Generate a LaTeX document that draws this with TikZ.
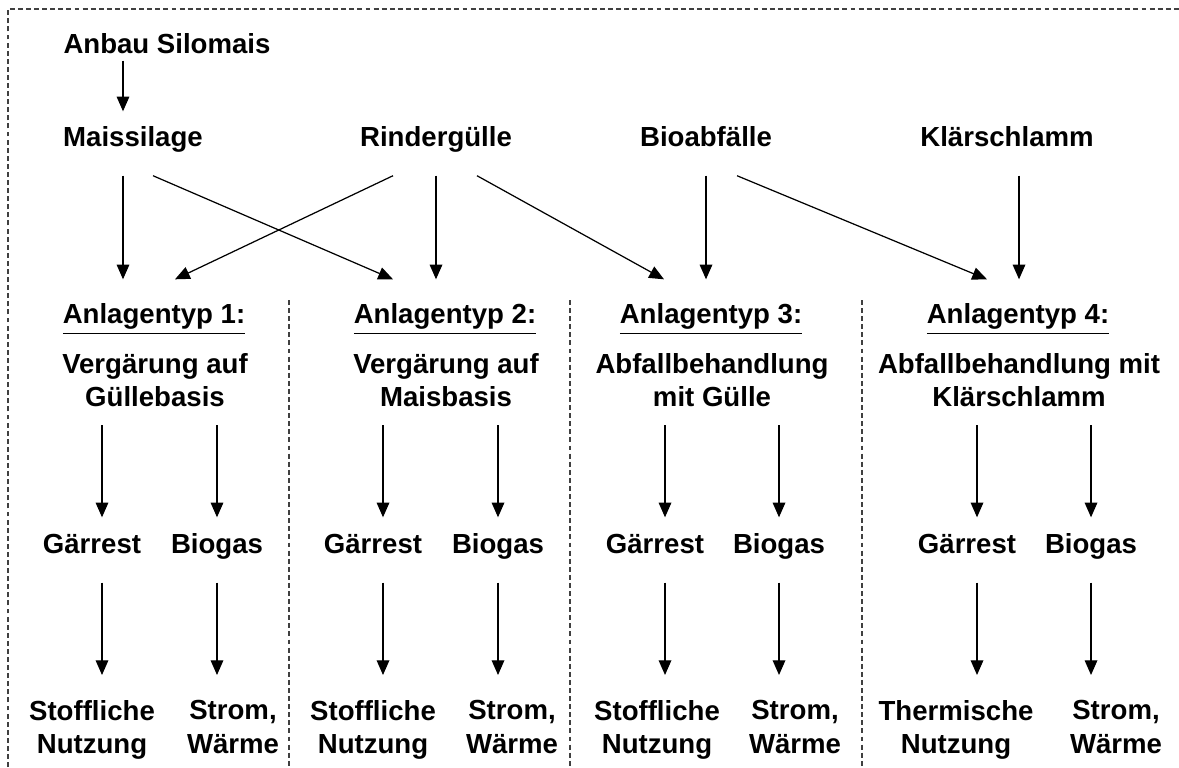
\documentclass[tikz,border=0pt]{standalone}
\usepackage{fontspec}
\setmainfont{Liberation Sans}
\usetikzlibrary{arrows.meta}

\begin{document}
\begin{tikzpicture}
        [font=\bfseries\fontsize{7.85}{9.6}\selectfont,
         top_style/.style={inner sep=0pt,anchor=base,text height=2mm,text depth=0.7mm},
         src_style/.style={inner sep=0pt,anchor=base,text height=3.4mm,text depth=2.9mm},
         typ_style/.style={inner sep=0pt,anchor=base,text height=4.3mm,text depth=1mm},
         desc_style/.style={inner sep=0pt,outer ysep=1.8mm,anchor=north,align=center,
                            execute at begin node={\vphantom{Sfl}}},
         prod_style/.style={inner sep=0pt,anchor=base,text height=3.5mm,text depth=2.9mm},
         use_style/.style={inner sep=0pt,outer ysep=2.5mm,anchor=north,align=center,
                           execute at begin node={\vphantom{Sfl}}},
         edge_style/.style={draw=black,line width=0.35pt,-{Triangle[length=4.2pt,width=3.6pt]}},
         sep_style/.style={draw=black!75,line width=0.3pt,dash pattern=on 1.4pt off 0.9pt}]
            \useasboundingbox (0,0) rectangle (11.79,-7.67);
            \draw[sep_style] (0.08,-7.67) -- (0.08,-0.09) -- (11.79,-0.09);
            \draw[sep_style] (2.89,-3.00) -- (2.89,-7.67);
            \draw[sep_style] (5.70,-3.00) -- (5.70,-7.67);
            \draw[sep_style] (8.62,-3.00) -- (8.62,-7.67);

            \node[top_style] (anbau) at (1.67,-0.53) {Anbau Silomais};
            \node[src_style] (mais) at (1.33,-1.46) {Maissilage};
            \node[src_style] (rind) at (4.36,-1.46) {Rindergülle};
            \node[src_style] (bio) at (7.06,-1.46) {Bioabfälle};
            \node[src_style] (klaer) at (10.07,-1.46) {Klärschlamm};

            \node[typ_style] (typ1) at (1.54,-3.23) {\underline{Anlagentyp 1:}};
            \node[typ_style] (typ2) at (4.45,-3.23) {\underline{Anlagentyp 2:}};
            \node[typ_style] (typ3) at (7.11,-3.23) {\underline{Anlagentyp 3:}};
            \node[typ_style] (typ4) at (10.18,-3.23) {\underline{Anlagentyp 4:}};
            \node[desc_style] (desc1) at (1.55,-3.35) {Vergärung auf\\Güllebasis};
            \node[desc_style] (desc2) at (4.46,-3.35) {Vergärung auf\\Maisbasis};
            \node[desc_style] (desc3) at (7.12,-3.35) {Abfallbehandlung\\mit Gülle};
            \node[desc_style] (desc4) at (10.19,-3.35) {Abfallbehandlung mit\\Klärschlamm};

            \node[prod_style] (gaer1) at (0.92,-5.53) {Gärrest};
            \node[prod_style] (gas1) at (2.17,-5.53) {Biogas};
            \node[prod_style] (gaer2) at (3.73,-5.53) {Gärrest};
            \node[prod_style] (gas2) at (4.98,-5.53) {Biogas};
            \node[prod_style] (gaer3) at (6.55,-5.53) {Gärrest};
            \node[prod_style] (gas3) at (7.79,-5.53) {Biogas};
            \node[prod_style] (gaer4) at (9.67,-5.53) {Gärrest};
            \node[prod_style] (gas4) at (10.91,-5.53) {Biogas};

            \node[use_style] (use1) at (0.92,-6.75) {Stoffliche\\Nutzung};
            \node[use_style] (ele1) at (2.33,-6.75) {Strom,\\Wärme};
            \node[use_style] (use2) at (3.73,-6.75) {Stoffliche\\Nutzung};
            \node[use_style] (ele2) at (5.12,-6.75) {Strom,\\Wärme};
            \node[use_style] (use3) at (6.57,-6.75) {Stoffliche\\Nutzung};
            \node[use_style] (ele3) at (7.95,-6.75) {Strom,\\Wärme};
            \node[use_style] (use4) at (9.56,-6.75) {Thermische\\Nutzung};
            \node[use_style] (ele4) at (11.16,-6.75) {Strom,\\Wärme};

            \draw[edge_style] ([xshift=-4.4mm]anbau.south) -- ([xshift=-4.4mm]anbau.south |- mais.north);
            \draw[edge_style] ([xshift=-1mm]mais.south) -- ([xshift=-1mm]mais.south |- typ1.north);
            \draw[edge_style] ([xshift=2mm]mais.south) -- ([xshift=-5.2mm]typ2.north);
            \draw[edge_style] ([xshift=-4.3mm]rind.south) -- ([xshift=2.1mm]typ1.north);
            \draw[edge_style] (rind.south) -- (rind.south |- typ2.north);
            \draw[edge_style] ([xshift=4.1mm]rind.south) -- ([xshift=-4.7mm]typ3.north);
            \draw[edge_style] (bio.south) -- (bio.south |- typ3.north);
            \draw[edge_style] ([xshift=3.1mm]bio.south) -- ([xshift=-3.1mm]typ4.north);
            \draw[edge_style] ([xshift=1.2mm]klaer.south) -- ([xshift=1.2mm]klaer.south |- typ4.north);

            \draw[edge_style] ([xshift=1mm]gaer1.north |- desc1.south) -- ([xshift=1mm]gaer1.north);
            \draw[edge_style] (gas1.north |- desc1.south) -- (gas1.north);
            \draw[edge_style] ([xshift=1mm]gaer2.north |- desc2.south) -- ([xshift=1mm]gaer2.north);
            \draw[edge_style] (gas2.north |- desc2.south) -- (gas2.north);
            \draw[edge_style] ([xshift=1mm]gaer3.north |- desc3.south) -- ([xshift=1mm]gaer3.north);
            \draw[edge_style] (gas3.north |- desc3.south) -- (gas3.north);
            \draw[edge_style] ([xshift=1mm]gaer4.north |- desc4.south) -- ([xshift=1mm]gaer4.north);
            \draw[edge_style] (gas4.north |- desc4.south) -- (gas4.north);

            \draw[edge_style] ([xshift=1mm]gaer1.south) -- ([xshift=1mm]gaer1.south |- use1.north);
            \draw[edge_style] (gas1.south) -- (gas1.south |- ele1.north);
            \draw[edge_style] ([xshift=1mm]gaer2.south) -- ([xshift=1mm]gaer2.south |- use2.north);
            \draw[edge_style] (gas2.south) -- (gas2.south |- ele2.north);
            \draw[edge_style] ([xshift=1mm]gaer3.south) -- ([xshift=1mm]gaer3.south |- use3.north);
            \draw[edge_style] (gas3.south) -- (gas3.south |- ele3.north);
            \draw[edge_style] ([xshift=1mm]gaer4.south) -- ([xshift=1mm]gaer4.south |- use4.north);
            \draw[edge_style] (gas4.south) -- (gas4.south |- ele4.north);
        \end{tikzpicture}
\end{document}
